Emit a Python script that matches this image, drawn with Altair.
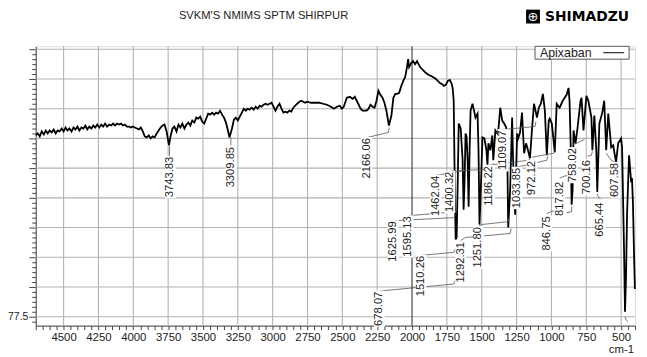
import altair as alt
import pandas as pd

# ---------------- spectrum (wavenumber cm-1, %T) ----------------
wn_a = [4699, 4685, 4671, 4657, 4642, 4628, 4614, 4600, 4585, 4571,
        4557, 4543, 4529, 4514, 4500, 4486, 4472, 4458, 4443, 4429,
        4415, 4401, 4387, 4372, 4358, 4344, 4330, 4316, 4301, 4287,
        4273, 4259, 4244, 4230, 4216, 4202, 4188, 4173, 4159, 4145,
        4131, 4117, 4102, 4088, 4074, 4060, 4046, 4031, 4017, 4003,
        3989, 3974, 3960, 3946, 3932]
t_a = [95.8, 96.0, 95.7, 96.2, 95.9, 96.3, 96.0, 96.3, 96.1, 96.4,
       96.0, 96.3, 96.2, 96.5, 96.2, 96.6, 96.3, 96.5, 96.2, 96.6,
       96.4, 96.7, 96.3, 96.6, 96.5, 96.8, 96.4, 96.7, 96.5, 96.8,
       96.6, 96.9, 96.6, 96.9, 96.7, 97.0, 96.7, 96.9, 96.8, 97.0,
       96.8, 97.0, 96.9, 97.0, 96.8, 96.9, 96.7, 96.7, 96.6, 96.7,
       96.6, 96.5, 96.4, 96.6, 96.2]

wn_b = [3918, 3903, 3889, 3875, 3861, 3847, 3832, 3818, 3804, 3790,
        3776, 3761, 3744, 3733, 3719, 3705, 3690, 3676, 3662, 3648,
        3633, 3619, 3605, 3591, 3577, 3562, 3548, 3534, 3520, 3506,
        3491, 3477, 3463, 3449, 3434, 3420, 3406, 3392, 3378, 3363,
        3349, 3335, 3321, 3310, 3292, 3278, 3264, 3250, 3236, 3221,
        3207, 3193, 3179, 3165, 3150, 3136, 3122, 3108, 3093, 3079,
        3065, 3051, 3037, 3022, 3008, 2994, 2980, 2966, 2951, 2937,
        2923, 2909, 2895, 2880, 2866, 2852, 2838, 2824, 2809, 2795,
        2781, 2767, 2752, 2724, 2696, 2667, 2639, 2610, 2582, 2561,
        2539, 2518, 2504, 2490]
t_b = [95.7, 95.6, 95.8, 95.5, 95.7, 95.6, 96.0, 96.3, 96.6, 96.8,
       96.9, 96.2, 94.8, 95.7, 96.5, 96.7, 96.2, 96.9, 96.6, 97.0,
       96.5, 96.9, 97.1, 96.8, 97.3, 97.1, 97.6, 97.5, 97.7, 97.2,
       97.0, 97.5, 98.0, 97.9, 98.1, 97.9, 98.1, 98.0, 98.3, 97.9,
       97.6, 97.1, 96.3, 95.6, 96.5, 97.4, 97.6, 97.3, 97.7, 98.1,
       98.5, 98.3, 98.5, 98.4, 98.6, 98.4, 98.7, 98.5, 98.8, 98.7,
       98.9, 99.0, 98.9, 99.0, 99.1, 98.7, 98.3, 98.7, 99.0, 98.5,
       98.1, 98.2, 98.1, 98.3, 98.2, 98.6, 98.8, 99.0, 99.2, 99.3,
       99.2, 99.1, 99.2, 99.1, 99.1, 99.1, 99.0, 98.9, 98.7, 98.5,
       98.7, 98.8, 98.5, 98.7]

wn_c = [2468, 2447, 2426, 2411, 2397, 2383, 2369, 2355, 2340, 2326,
        2312, 2298, 2284, 2269, 2255, 2241, 2227, 2212, 2198, 2184,
        2166, 2148, 2134, 2120, 2106, 2092, 2077, 2063, 2049, 2035,
        2028, 2021, 2006, 1992, 1978, 1964, 1957, 1942, 1928, 1914,
        1900, 1879, 1864, 1850, 1829, 1815, 1800, 1786, 1772, 1758,
        1743, 1729, 1715, 1708]
t_c = [99.6, 99.7, 99.5, 99.7, 99.3, 98.9, 98.5, 98.3, 98.3, 98.3,
       98.5, 98.9, 98.7, 98.6, 99.3, 100.3, 99.9, 99.6, 99.1, 98.3,
       96.8, 97.8, 99.6, 100.0, 100.0, 100.1, 100.8, 101.3, 101.7, 102.8,
       103.5, 102.7, 103.1, 103.3, 103.0, 103.3, 103.1, 102.7, 102.5, 102.3,
       102.1, 101.9, 101.8, 101.7, 101.5, 101.3, 101.1, 101.0, 100.8, 100.9,
       101.3, 101.4, 101.0, 100.5]

wn_d = [1701, 1694, 1687, 1680, 1672, 1665, 1651, 1637, 1630, 1623,
        1616, 1609, 1601, 1594, 1587, 1580, 1566, 1552, 1545, 1530,
        1523, 1516, 1509, 1495, 1481, 1466, 1459, 1452, 1438, 1424,
        1417, 1402, 1388, 1381, 1367, 1353, 1339, 1324, 1317, 1310,
        1296, 1282, 1275, 1260, 1253, 1246, 1239, 1225, 1211, 1196,
        1182, 1168, 1154, 1140, 1125, 1111, 1104, 1090, 1076, 1061,
        1047, 1033, 1019, 1012, 997, 976, 962, 941, 919, 891,
        877, 870, 862, 855, 848, 841, 827, 813, 791, 784,
        770, 749, 735, 713, 706, 692, 678, 671, 664, 656,
        635, 621, 607, 592, 571, 557, 536, 521, 500, 493,
        479, 472, 465, 457, 443, 429, 422, 415, 408, 401]
t_d = [99.3, 91.3, 85.3, 85.5, 91.3, 97.0, 96.5, 93.3, 88.3, 91.3,
       96.0, 95.7, 93.3, 88.6, 94.3, 98.3, 99.0, 98.1, 97.6, 98.0,
       94.3, 86.8, 89.3, 95.6, 95.5, 94.3, 92.8, 95.0, 94.3, 95.8,
       93.3, 96.3, 96.0, 96.3, 98.6, 97.3, 97.0, 96.6, 94.3, 86.5,
       90.3, 97.6, 93.3, 87.8, 92.3, 96.0, 95.5, 96.1, 98.1, 94.0,
       95.0, 94.3, 93.5, 96.3, 99.0, 98.1, 97.6, 98.6, 99.0, 100.0,
       98.3, 93.8, 97.3, 97.5, 97.0, 94.1, 99.0, 98.6, 99.3, 99.9,
       100.6, 99.3, 95.0, 88.8, 90.3, 96.3, 95.0, 96.5, 99.3, 99.6,
       96.3, 99.8, 99.3, 97.6, 94.3, 97.8, 94.3, 90.1, 93.3, 97.0,
       98.1, 99.3, 94.3, 98.0, 94.6, 94.8, 93.1, 95.0, 95.5, 94.6,
       84.3, 78.0, 81.3, 88.0, 93.8, 91.3, 91.5, 89.0, 84.3, 80.3]

# ---------------- peak labels ----------------
label_text = ["3743.83", "3309.85", "2166.06", "1625.99", "1595.13", "1510.26",
              "1462.04", "1400.32", "1292.31", "1251.80", "1186.22", "1109.07",
              "1033.85", "972.12", "846.75", "817.82", "758.02", "700.16",
              "665.44", "607.58", "678.07"]
label_wn = [3733, 3300, 2326, 2134, 2028, 1935, 1829, 1729, 1651, 1523, 1445,
            1346, 1246, 1140, 1033, 941, 848, 742, 649, 543, 2234]
label_t = [91.6, 92.6, 93.5, 85.1, 85.6, 81.6, 89.7, 90.1, 83.0, 84.5, 90.7,
           94.3, 90.5, 91.5, 85.9, 89.4, 92.8, 91.6, 87.3, 91.3, 78.3]

# leader lines (label -> peak)
leader_wn = [[3740, 3740], [3300, 3300], [2319, 2170, 2163], [2127, 1701, 1687],
             [2021, 1687, 1672], [1928, 1701, 1687], [1822, 1630, 1630],
             [1722, 1417, 1417], [1651, 1616, 1296, 1289], [1523, 1502, 1310, 1303],
             [1445, 1161, 1154], [1346, 1118, 1111], [1246, 1033, 1026],
             [1140, 983, 976], [1033, 1005, 976], [941, 905, 862], [848, 820, 763],
             [742, 713, 706], [649, 664, 671], [543, 571, 607], [2227, 1701, 1687],
             [472, 465, 450], [891, 855, 855]]
leader_t = [[93.7, 94.7], [94.8, 95.6], [95.6, 96.1, 96.6], [87.2, 87.5, 87.8],
            [87.7, 88.1, 88.4], [83.7, 84.0, 84.4], [91.8, 92.2, 92.6],
            [92.2, 92.4, 93.0], [85.2, 85.5, 85.9, 86.4], [86.6, 86.8, 87.1, 87.5],
            [92.8, 93.3, 93.5], [96.4, 96.7, 97.2], [92.6, 93.3, 93.7],
            [93.6, 94.0, 94.2], [87.9, 88.1, 88.2], [91.5, 91.7, 91.8], [94.9, 95.0, 95.4],
            [93.7, 93.8, 94.2], [89.4, 89.6, 89.9], [93.1, 93.3, 94.0], [80.1, 80.8, 81.2],
            [77.5, 77.2, 77.0], [88.0, 88.1, 88.6]]

x_ticks = list(range(400, 4701, 50))
x_grid = [4500, 4250, 4000, 3750, 3500, 3250, 3000, 2750, 2500, 2250,
          1750, 1500, 1250, 1000, 750, 500]
x_grid_dark = [2000]
y_ticks = [77.0 + 0.5 * k for k in range(56)]
y_grid = [77.5, 80.5, 83.5, 86.5, 89.5, 92.5, 95.5, 98.5, 101.5, 104.5]

title_text = "SVKM'S NMIMS SPTM SHIRPUR"
brand_text = "SHIMADZU"
legend_text = "Apixaban"
unit_text = "cm-1"

FONT = "Liberation Sans"
W, H = 605, 282
X_DOM = [4700, 400]
Y_DOM = [76.6, 104.8]
LFS = 11.3  # peak label font size
GRID = "#b2b2b2"

spec = pd.DataFrame({"wn": wn_a + wn_b + wn_c + wn_d, "T": t_a + t_b + t_c + t_d})

# label white backing boxes sized from the text length
wn_per_px = (X_DOM[0] - X_DOM[1]) / W
t_per_px = (Y_DOM[1] - Y_DOM[0]) / H
half_len = [(sum(0.278 if c == "." else 0.556 for c in s) * LFS) / 2 + 1 for s in label_text]
labels = pd.DataFrame({
    "wn": label_wn, "T": label_t, "label": label_text,
    "x1": [w + 5.5 * wn_per_px for w in label_wn],
    "x2": [w - 5.5 * wn_per_px for w in label_wn],
    "y1": [t - h * t_per_px for t, h in zip(label_t, half_len)],
    "y2": [t + h * t_per_px for t, h in zip(label_t, half_len)],
})
rows = []
for i, (ws, ts) in enumerate(zip(leader_wn, leader_t)):
    for j, (w, t) in enumerate(zip(ws, ts)):
        rows.append({"id": i, "seq": j, "wn": w, "T": t})
leaders = pd.DataFrame(rows)
one = pd.DataFrame({"a": [0]})

xscale = alt.Scale(domain=X_DOM, nice=False, zero=False)
yscale = alt.Scale(domain=Y_DOM, nice=False, zero=False)

xaxis = alt.Axis(
    values=x_ticks, tickCount=500, title=None, labelOverlap=False, labelFlush=False,
    labelExpr="datum.value % 250 === 0 && datum.value >= 500 && datum.value <= 4500 ? format(datum.value, 'd') : ''",
    grid=False, tickSize=4, tickColor="#444", domainColor="#444", labelFont=FONT,
    labelFontSize=11.5, labelColor="#222", labelPadding=2)
yaxis = alt.Axis(
    values=y_ticks, tickCount=500, title=None, labelOverlap=False, labelFlush=False,
    labelExpr="datum.value === 77.5 ? '77.5' : ''",
    grid=False,
    tickSize={"condition": {"test": "(datum.value - 77.5) % 3 === 0", "value": 7}, "value": 4},
    tickColor="#444", domainColor="#444", labelFont=FONT, labelFontSize=10.5,
    labelColor="#222", labelPadding=1)

gx = alt.Chart(pd.DataFrame({"gwn": x_grid})).mark_rule(color=GRID, strokeWidth=1.1).encode(
    x=alt.X("gwn:Q", scale=xscale, axis=xaxis), y=alt.value(0), y2=alt.value(H))
gy = alt.Chart(pd.DataFrame({"gT": y_grid})).mark_rule(color=GRID, strokeWidth=1.1).encode(
    y=alt.Y("gT:Q", scale=yscale, axis=yaxis), x=alt.value(0), x2=alt.value(W))
gd = alt.Chart(pd.DataFrame({"gwn": x_grid_dark})).mark_rule(color="#222222", strokeWidth=1).encode(
    x="gwn:Q", y=alt.value(0), y2=alt.value(H))

line = alt.Chart(spec).mark_line(color="black", strokeWidth=1.8).encode(
    x="wn:Q", y="T:Q")

lead = alt.Chart(leaders).mark_line(color="#555", strokeWidth=0.8).encode(
    x="wn:Q", y="T:Q", detail="id:N", order="seq:Q")

boxes = alt.Chart(labels).mark_rect(color="white").encode(
    x="x1:Q", x2="x2:Q", y="y1:Q", y2="y2:Q")

txt = alt.Chart(labels).mark_text(angle=270, align="center", baseline="middle",
                                   font=FONT, fontSize=LFS, color="#222").encode(
    x="wn:Q", y="T:Q", text="label:N")

title = alt.Chart(one).mark_text(text=title_text, font=FONT, fontSize=11.3, color="#222",
                                 align="center", baseline="middle").encode(
    x=alt.value(230), y=alt.value(-31))
logo_box = alt.Chart(one).mark_rect(color="black").encode(
    x=alt.value(495), x2=alt.value(509), y=alt.value(-37), y2=alt.value(-23))
logo_sym = alt.Chart(one).mark_text(text="\u2295", font="DejaVu Sans", fontSize=13, color="white",
                                    align="center", baseline="middle").encode(
    x=alt.value(502), y=alt.value(-30))
brand = alt.Chart(one).mark_text(text=brand_text, font="DejaVu Sans", fontWeight="bold",
                                 fontSize=14, color="black", align="left", baseline="middle").encode(
    x=alt.value(514), y=alt.value(-30))

leg_box = alt.Chart(one).mark_rect(fill="white", stroke="#555", strokeWidth=1).encode(
    x=alt.value(504), x2=alt.value(599), y=alt.value(0), y2=alt.value(13))
leg_txt = alt.Chart(one).mark_text(text=legend_text, font=FONT, fontSize=12.5, color="#222",
                                   align="left", baseline="middle").encode(
    x=alt.value(509), y=alt.value(7))
leg_line = alt.Chart(one).mark_rule(color="black", strokeWidth=1).encode(
    x=alt.value(573), x2=alt.value(594), y=alt.value(6.5))

unit = alt.Chart(one).mark_text(text=unit_text, font=FONT, fontSize=11.5, color="#222",
                                align="right", baseline="middle").encode(
    x=alt.value(604), y=alt.value(307))

chart = alt.layer(gx, gy, gd, line, lead, boxes, txt, title, logo_box, logo_sym, brand,
                  leg_box, leg_txt, leg_line, unit).properties(
    width=W, height=H,
    autosize=alt.AutoSizeParams(type="none"),
    padding={"left": 28, "top": 37, "right": 4, "bottom": 28},
).configure_view(stroke="#444", strokeWidth=1).configure(background="white")

chart.save("out.html", embed_options={"renderer": "svg", "actions": False})
